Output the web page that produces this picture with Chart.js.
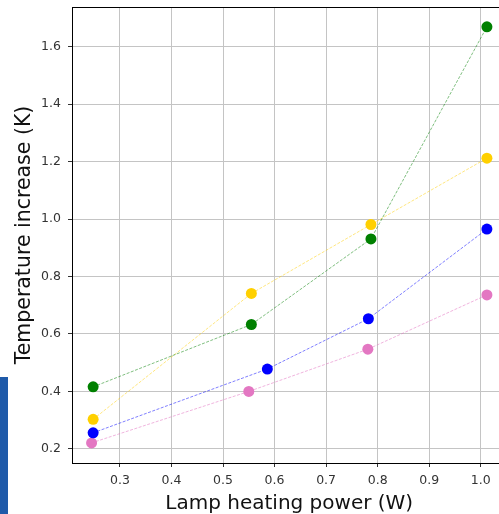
<!DOCTYPE html>
<html>
<head>
<meta charset="utf-8">
<script src="https://cdn.jsdelivr.net/npm/chart.js@4"></script>
<style>
  html, body { margin: 0; padding: 0; background: #fff; overflow: hidden; }
  #wrap { position: relative; width: 512px; height: 514px; }
  #sidebar { position: absolute; left: 0; top: 377px; width: 8px; height: 137px; background: #1f5aa9; }
</style>
</head>
<body>
<div id="wrap">
  <canvas id="myChart" width="512" height="514"></canvas>
  <div id="sidebar"></div>
</div>
<script>
const greenX = [0.248, 0.555, 0.787, 1.012];
const greenY = [0.416, 0.633, 0.931, 1.669];
const yellowX = [0.248, 0.555, 0.787, 1.012];
const yellowY = [0.303, 0.741, 0.981, 1.212];
const blueX = [0.248, 0.586, 0.782, 1.012];
const blueY = [0.256, 0.478, 0.653, 0.965];
const pinkX = [0.245, 0.550, 0.781, 1.012];
const pinkY = [0.221, 0.400, 0.547, 0.736];

const xTicks = [0.3, 0.4, 0.5, 0.6, 0.7, 0.8, 0.9, 1.0];
const yTicks = [0.2, 0.4, 0.6, 0.8, 1.0, 1.2, 1.4, 1.6];

const toPoints = (xs, ys) => xs.map((x, i) => ({ x: x, y: ys[i] }));

function series(xs, ys, dot, line) {
    return {
        data: toPoints(xs, ys),
        showLine: true,
        borderColor: line,
        borderWidth: 1,
        borderDash: [3, 1.5],
        backgroundColor: dot,
        pointBackgroundColor: dot,
        pointBorderWidth: 0,
        pointRadius: 5.5,
        pointHoverRadius: 5.5
    };
}

// matplotlib style top spine
const topSpine = {
    id: 'topSpine',
    afterDraw(chart) {
        const { ctx, chartArea } = chart;
        ctx.save();
        ctx.strokeStyle = '#000';
        ctx.lineWidth = 1;
        ctx.beginPath();
        ctx.moveTo(chartArea.left, chartArea.top + 0.5);
        ctx.lineTo(chartArea.right, chartArea.top + 0.5);
        ctx.stroke();
        ctx.restore();
    }
};

const tickFont = { family: 'DejaVu Sans', size: 12.5 };

const ctx = document.getElementById('myChart').getContext('2d');
const myChart = new Chart(ctx, {
    type: 'scatter',
    data: {
        datasets: [
            series(greenX, greenY, '#008000', 'rgba(0,128,0,0.5)'),
            series(yellowX, yellowY, '#ffd000', 'rgba(255,208,0,0.5)'),
            series(blueX, blueY, '#0000ff', 'rgba(0,0,255,0.5)'),
            series(pinkX, pinkY, '#e377c2', 'rgba(227,119,194,0.55)')
        ]
    },
    options: {
        responsive: false,
        animation: false,
        layout: { padding: { top: 7, right: 3, left: 0, bottom: 0 } },
        plugins: { legend: { display: false }, tooltip: { enabled: false } },
        scales: {
            x: {
                type: 'linear',
                min: 0.207,
                max: 1.050,
                afterBuildTicks: (axis) => { axis.ticks = xTicks.map(v => ({ value: v })); },
                afterFit: (axis) => {
                    axis.height = 51;
                    axis.paddingLeft = 0;
                    axis.paddingRight = 0;
                },
                ticks: {
                    font: tickFont,
                    color: '#333',
                    padding: 6,
                    maxRotation: 0,
                    callback: (v) => v.toFixed(1)
                },
                grid: { color: '#c4c4c4', lineWidth: 1, tickColor: '#333', tickLength: 4 },
                border: { color: '#000', width: 1 },
                title: {
                    display: true,
                    text: 'Lamp heating power (W)',
                    font: { family: 'DejaVu Sans', size: 20, lineHeight: 1 },
                    color: '#111',
                    padding: { top: 0, bottom: 0 }
                }
            },
            y: {
                type: 'linear',
                min: 0.151,
                max: 1.738,
                afterBuildTicks: (axis) => { axis.ticks = yTicks.map(v => ({ value: v })); },
                afterFit: (axis) => {
                    axis.width = 72;
                    axis.paddingTop = 0;
                    axis.paddingBottom = 0;
                },
                ticks: {
                    font: tickFont,
                    color: '#333',
                    padding: 7,
                    callback: (v) => v.toFixed(1)
                },
                grid: { color: '#c4c4c4', lineWidth: 1, tickColor: '#333', tickLength: 4 },
                border: { color: '#000', width: 1 },
                title: {
                    display: true,
                    text: 'Temperature increase (K)',
                    font: { family: 'DejaVu Sans', size: 20.5, lineHeight: 1 },
                    color: '#111',
                    padding: { top: 14, bottom: 0 }
                }
            }
        }
    },
    plugins: [topSpine]
});
</script>
</body>
</html>
